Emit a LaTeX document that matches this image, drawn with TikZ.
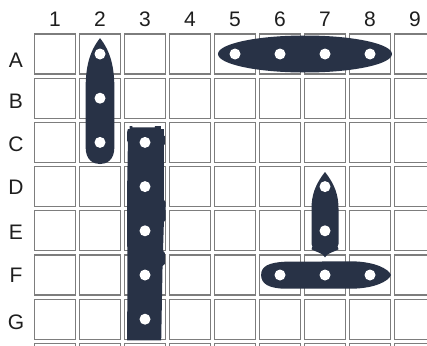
\documentclass[tikz,border=0pt]{standalone}
\usepackage{fontspec}
\setmainfont{Liberation Sans}
\definecolor{shipnavy}{RGB}{40,50,70}
\definecolor{gridgray}{RGB}{125,125,125}
\definecolor{labelink}{RGB}{30,30,30}
\usetikzlibrary{positioning}

\begin{document}
\begin{tikzpicture}[x=45pt,y=-44.2pt,
  cell/.style={draw=gridgray,line width=1.2pt,minimum width=41pt,minimum height=40pt,inner sep=0pt},
  colnum/.style={text=labelink,font=\fontsize{21}{23}\selectfont},
  rowlet/.style={text=labelink,font=\fontsize{21}{23}\selectfont},
  ship/.style={fill=shipnavy},
  hole/.style={fill=white}]
\useasboundingbox (-0.2222,-0.2217) rectangle (9.2667,7.5837);
\clip (-0.2222,-0.2217) rectangle (9.2667,7.5837);
\fill[white] (-0.2222,-0.2217) rectangle (9.2667,7.5837);
\foreach \c in {1,...,9} \node[colnum] (col\c) at (\c,0.22) {\c};
\foreach \y/\l in {1.136/A,2.063/B,3.036/C,4.009/D,5.027/E,6.0/F,7.063/G} \node[rowlet] (row\l) at (0.133,\y) {\l};
\foreach \c in {1,...,9} \foreach \r in {1,...,8} \node[cell] (cell\c\r) at (\c,\r) {};
\fill[ship] (2,0.64) .. controls (1.76,0.95) and (1.68,1.3) .. (1.68,1.8) -- (1.68,3.1)
  .. controls (1.68,3.4) and (1.85,3.49) .. (2,3.49) .. controls (2.15,3.49) and (2.32,3.4) .. (2.32,3.1)
  -- (2.32,1.8) .. controls (2.32,1.3) and (2.24,0.95) .. cycle;
\foreach \r in {1,2,3} \fill[hole] (2,\r) circle[radius=5.5pt];
\fill[ship] (6.555,1) ellipse [x radius=87pt, y radius=18.5pt];
\foreach \c in {5,6,7,8} \fill[hole] (\c,1) circle[radius=5.5pt];
\fill[ship] (2.66,2.7) -- (2.66,2.63) -- (2.72,2.63) -- (2.72,2.66) -- (3.22,2.66) -- (3.22,2.63)
  -- (3.35,2.63) -- (3.35,2.7) -- (3.42,2.7) -- (3.42,2.85) -- (3.44,2.85) -- (3.44,3.05) -- (3.42,3.05)
  -- (3.42,4.3) -- (3.46,4.35) -- (3.46,4.75) -- (3.42,4.8) -- (3.4,5.45) -- (3.44,5.5) -- (3.44,5.75)
  -- (3.39,5.8) -- (3.36,7.48) -- (2.6,7.48) -- (2.61,6.3) -- (2.6,4.2) -- (2.62,3.0) -- (2.6,2.95)
  -- (2.6,2.78) -- (2.62,2.7) -- cycle;
\foreach \r in {3,...,7} \fill[hole] (3,\r) circle[radius=5.5pt];
\fill[ship] (7,3.67) .. controls (6.78,3.95) and (6.7,4.2) .. (6.7,4.5) -- (6.7,5.3) -- (6.72,5.35)
  -- (6.7,5.42) .. controls (6.8,5.48) and (6.95,5.5) .. (7,5.6) .. controls (7.05,5.5) and (7.2,5.48) .. (7.3,5.42)
  -- (7.28,5.35) -- (7.3,5.3) -- (7.3,4.5) .. controls (7.3,4.2) and (7.22,3.95) .. cycle;
\foreach \r in {4,5} \fill[hole] (7,\r) circle[radius=5.5pt];
\fill[ship] (5.58,6) .. controls (5.58,5.8) and (5.75,5.72) .. (6.1,5.7) -- (7.6,5.69)
  .. controls (8.1,5.7) and (8.4,5.85) .. (8.47,6) .. controls (8.4,6.15) and (8.1,6.3) .. (7.6,6.31)
  -- (6.1,6.31) .. controls (5.75,6.3) and (5.58,6.2) .. cycle;
\foreach \c in {6,7,8} \fill[hole] (\c,6) circle[radius=5.5pt];
\end{tikzpicture}
\end{document}
